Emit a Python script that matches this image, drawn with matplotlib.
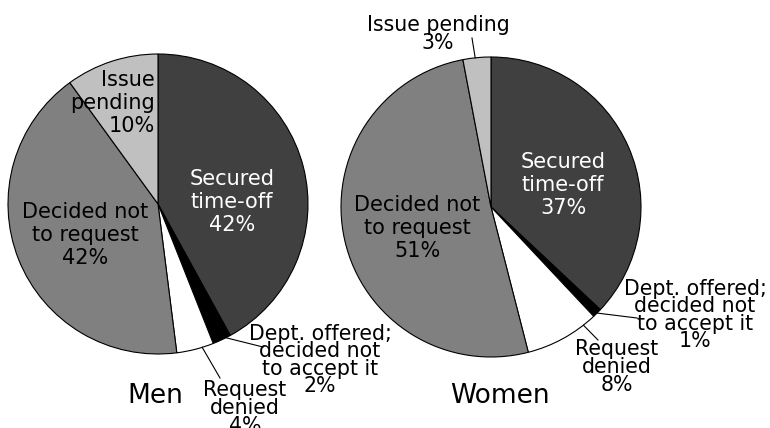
import numpy as np
import matplotlib
matplotlib.use("Agg")
import matplotlib.pyplot as plt

categories = ["Secured\ntime-off", "Dept. offered;\ndecided not\nto accept it",
              "Request\ndenied", "Decided not\nto request", "Issue\npending"]
men = [42, 2, 4, 42, 10]
women = [37, 1, 8, 51, 3]
colors = ["#404040", "#000000", "#ffffff", "#808080", "#c0c0c0"]

W, H = 770, 428
fig = plt.figure(figsize=(7.7, 4.28), dpi=100)
ax = fig.add_axes([0, 0, 1, 1])
ax.set_xlim(0, W)
ax.set_ylim(0, H)
ax.set_aspect("equal")
ax.axis("off")


def Y(y):
    # pixel row (from top) -> data y
    return H - y


def draw(values, cx, cy, r, title, tx, ty, labels):
    wedges, _ = ax.pie(values, colors=colors, startangle=90, counterclock=False,
                       center=(cx, Y(cy)), radius=r, frame=True,
                       wedgeprops=dict(edgecolor="black", linewidth=0.8))
    for i, (x, y, col, flat, ha, lead) in enumerate(labels):
        txt = categories[i].replace("\n", " ") if flat else categories[i]
        text = f"{txt}\n{values[i]}%"
        ax.text(x, Y(y), text, ha=ha, va="center", multialignment=ha,
                color=col, fontsize=14.8 if lead else 15,
                linespacing=0.85 if lead else 1.2)
        if lead:
            frac, ex, ey = lead
            w = wedges[i]
            ang = np.deg2rad(w.theta1 + frac * (w.theta2 - w.theta1))
            sx, sy = cx + r * np.cos(ang), Y(cy) + r * np.sin(ang)
            ax.plot([sx, ex], [sy, Y(ey)], color="black", lw=0.8)
    ax.text(tx, Y(ty), title, ha="center", va="center", fontsize=19)


men_labels = [
    (232, 202, "white", False, "center", None),
    (320, 360, "black", False, "center", (0.74, 263, 347)),
    (245, 408, "black", False, "center", (0.69, 220, 378)),
    (85, 235, "black", False, "center", None),
    (155, 103, "black", False, "right", None),
]
women_labels = [
    (563, 185, "white", False, "center", None),
    (695, 315, "black", False, "center", (0.5, 637, 318)),
    (617, 367, "black", False, "center", (0.82, 598, 340)),
    (417, 228, "black", False, "center", None),
    (438, 34, "black", True, "center", (0.56, 472, 38)),
]

draw(men, 158, 204, 150, "Men", 155, 396, men_labels)
draw(women, 491, 207, 150, "Women", 500, 396, women_labels)

ax.set_xlim(0, W)
ax.set_ylim(0, H)
ax.axis("off")
fig.savefig("out.png", dpi=100)
